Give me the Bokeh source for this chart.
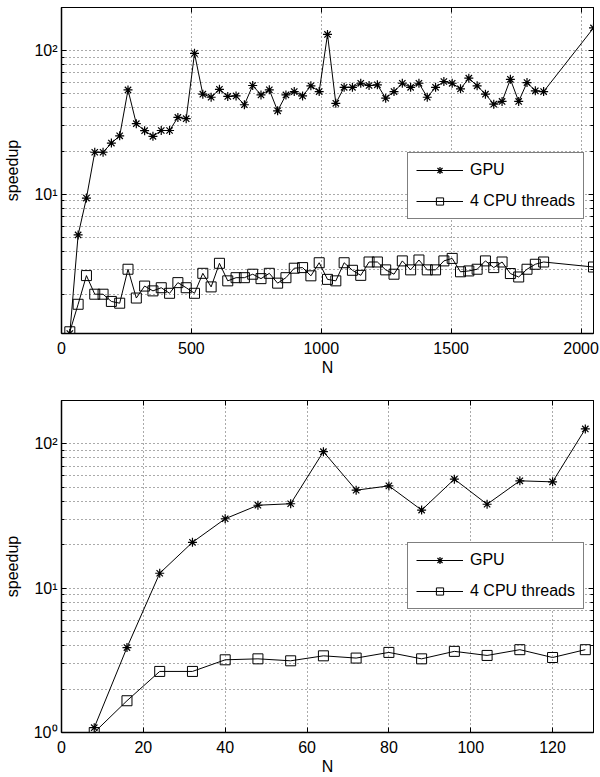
from bokeh.plotting import figure
from bokeh.layouts import column
from bokeh.models import FixedTicker, LinearAxis, LogAxis, Legend, LegendItem, Range1d
from bokeh.embed import file_html
from bokeh.resources import INLINE

# ---------------- data ----------------
n_top = [32, 64, 96, 128, 160, 192, 224, 256, 288, 320,
         352, 384, 416, 448, 480, 512, 544, 576, 608, 640,
         672, 704, 736, 768, 800, 832, 864, 896, 928, 960,
         992, 1024, 1056, 1088, 1120, 1152, 1184, 1216, 1248, 1280,
         1312, 1344, 1376, 1408, 1440, 1472, 1504, 1536, 1568, 1600,
         1632, 1664, 1696, 1728, 1760, 1792, 1824, 1856, 2048]
gpu_top = [1.07, 5.2, 9.4, 19.6, 19.6, 22.7, 25.5, 53.3, 31.0, 27.7,
           25.3, 27.8, 27.8, 34.3, 33.6, 95.8, 49.8, 47.4, 53.8, 48.0,
           48.4, 42.0, 57.2, 49.2, 53.4, 38.1, 49.2, 51.9, 48.4, 56.9,
           51.9, 129.8, 43.0, 55.6, 55.6, 59.3, 57.2, 57.8, 46.7, 51.9,
           59.3, 55.6, 59.3, 47.4, 55.6, 61.0, 59.3, 54.2, 64.3, 56.9,
           49.8, 42.4, 44.3, 63.2, 44.3, 60.0, 52.5, 51.9, 144.0]
cpu_top = [1.1, 1.71, 2.71, 2.01, 2.01, 1.79, 1.74, 3.0, 1.89, 2.29,
           2.12, 2.23, 2.04, 2.42, 2.23, 2.04, 2.81, 2.26, 3.3, 2.49,
           2.62, 2.62, 2.77, 2.58, 2.81, 2.4, 2.62, 3.05, 3.08, 2.7,
           3.33, 2.55, 2.49, 3.33, 2.95, 2.72, 3.37, 3.37, 2.97, 2.77,
           3.43, 2.97, 3.48, 2.97, 2.97, 3.43, 3.57, 2.88, 2.92, 3.0,
           3.43, 3.08, 3.37, 2.8, 2.65, 3.0, 3.25, 3.37, 3.11]

n_bot = [8, 16, 24, 32, 40, 48, 56, 64, 72, 80, 88, 96, 104, 112, 120, 128]
gpu_bot = [1.08, 3.88, 12.7, 20.8, 30.3, 37.6, 38.5, 88.4,
           47.8, 51.2, 34.8, 57.0, 38.2, 55.5, 54.6, 127.0]
cpu_bot = [1.0, 1.66, 2.65, 2.65, 3.19, 3.24, 3.14, 3.4,
           3.28, 3.59, 3.24, 3.65, 3.42, 3.75, 3.31, 3.75]

y_major = [1, 10, 100]
y_minor = [2, 3, 4, 5, 6, 7, 8, 9, 20, 30, 40, 50, 60, 70, 80, 90, 200]
y_labels = {1: "10\u2070", 10: "10\u00b9", 100: "10\u00b2"}
x_ticks_top = [0, 500, 1000, 1500, 2000]
x_ticks_bot = [0, 20, 40, 60, 80, 100, 120]
series_names = ["GPU", "4 CPU threads"]

FONT = "Liberation Sans"
GRID = "#555555"


def make_plot(n, gpu, cpu, xr, yr, xticks, width, height, mbl, mbt, mbb, mbr, legend_xy):
    p = figure(width=width, height=height, y_axis_type="log",
               x_range=Range1d(*xr), y_range=Range1d(*yr),
               output_backend="svg", toolbar_location=None,
               min_border_left=mbl, min_border_top=mbt, min_border_bottom=mbb,
               min_border_right=mbr)
    p.background_fill_color = "white"
    p.border_fill_color = "white"
    p.outline_line_color = "black"
    p.outline_line_width = 1

    # extra box axes carrying inward ticks only
    p.add_layout(LinearAxis(), "above")
    p.add_layout(LogAxis(), "right")

    for ax in p.xaxis:
        ax.ticker = FixedTicker(ticks=xticks)
        ax.minor_tick_line_color = None
    for ax in p.yaxis:
        ax.ticker = FixedTicker(ticks=y_major, minor_ticks=y_minor)
        ax.minor_tick_in = 3
        ax.minor_tick_out = 0
        ax.minor_tick_line_color = "black"
    for ax in list(p.xaxis) + list(p.yaxis):
        ax.major_tick_in = 5
        ax.major_tick_out = 0
        ax.major_tick_line_color = "black"
        ax.axis_line_color = "black"
        ax.major_label_text_font = FONT
        ax.major_label_text_font_size = "16px"
        ax.major_label_text_color = "black"
        ax.axis_label_text_font = FONT
        ax.axis_label_text_font_size = "16px"
        ax.axis_label_text_font_style = "normal"
        ax.axis_label_text_color = "black"

    for ax in (p.above[0], p.right[0]):
        ax.major_label_text_font_size = "0px"
        ax.major_label_text_color = None
        ax.major_label_standoff = 0
        ax.axis_label = None

    bx = p.below[0]
    bx.axis_label = "N"
    bx.axis_line_width = 1.5
    bx.major_label_standoff = 8
    bx.axis_label_standoff = 2
    ly = p.left[0]
    ly.axis_label = "speedup"
    ly.axis_line_width = 1.5
    ly.major_label_overrides = y_labels
    ly.major_label_standoff = 4
    ly.axis_label_standoff = 10

    # dotted grids
    p.xgrid.ticker = FixedTicker(ticks=xticks)
    p.ygrid.ticker = FixedTicker(ticks=y_major, minor_ticks=y_minor)
    for g in (p.xgrid, p.ygrid):
        g.grid_line_color = GRID
        g.grid_line_dash = "1 3"
        g.grid_line_width = 1
    p.ygrid.minor_grid_line_color = GRID
    p.ygrid.minor_grid_line_dash = "1 3"

    l1 = p.line(n, gpu, line_color="black", line_width=1)
    s1 = p.scatter(n, gpu, marker="asterisk", size=9, line_color="black", line_width=1.2)
    l2 = p.line(n, cpu, line_color="black", line_width=1)
    s2 = p.scatter(n, cpu, marker="square", size=10, line_color="black",
                   fill_color=None, line_width=1)

    leg = Legend(items=[LegendItem(label=series_names[0], renderers=[l1, s1]),
                        LegendItem(label=series_names[1], renderers=[l2, s2])],
                 location=legend_xy)
    leg.label_text_font = FONT
    leg.label_text_font_size = "16px"
    leg.label_text_color = "black"
    leg.glyph_width = 47
    leg.glyph_height = 18
    leg.label_height = 18
    leg.label_standoff = 7
    leg.spacing = 13
    leg.padding = 8
    leg.margin = 0
    leg.border_line_color = "black"
    leg.border_line_width = 1
    leg.background_fill_color = "white"
    leg.background_fill_alpha = 1
    p.add_layout(leg, "center")
    return p


p1 = make_plot(n_top, gpu_top, cpu_top, (0, 2048), (1.07, 200), x_ticks_top,
               width=600, height=382, mbl=60, mbt=7, mbb=49, mbr=4, legend_xy=(346, 114))
p2 = make_plot(n_bot, gpu_bot, cpu_bot, (0, 130), (1, 200), x_ticks_bot,
               width=600, height=395, mbl=58, mbt=18, mbb=43, mbr=7, legend_xy=(346, 123))

layout = column(p1, p2, spacing=0)
open("out.html", "w").write(file_html(layout, INLINE))
